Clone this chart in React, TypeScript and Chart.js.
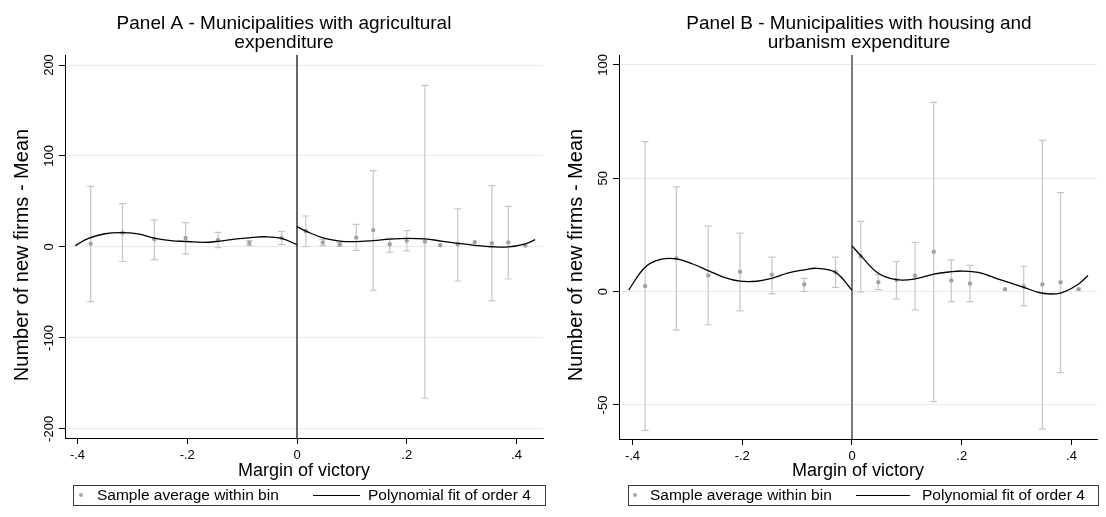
import { useEffect, useRef } from 'react';
import { Chart, registerables } from 'chart.js';

Chart.register(...registerables);

const FONT = "'Liberation Sans', Arial, Helvetica, sans-serif";

// ---------- Panel A: municipalities with agricultural expenditure ----------
const titleA = ['Panel A - Municipalities with agricultural', 'expenditure'];
const binXA = [-0.376, -0.318, -0.26, -0.203, -0.144, -0.087, -0.028, 0.016, 0.047, 0.078, 0.108, 0.139, 0.169, 0.2, 0.233, 0.261, 0.293, 0.324, 0.355, 0.385, 0.416];
const binMeanA = [3.5, 15.7, 8.5, 9.8, 7.8, 4.3, 10, 17.5, 5, 2.8, 10.3, 18.5, 2.9, 7, 6, 1.8, 2.9, 5.1, 4, 5, 1.5];
const ciLowA = [-60, -16, -13.9, -7.7, -0.7, 1.5, 2.6, 0.3, 1.5, 0.7, -3.7, -47.6, -5.9, -4.4, -166.3, null, -37.4, null, -59.3, -35.2, null];
const ciHighA = [66.7, 47.6, 29.7, 26.7, 16, 7, 17.2, 34, 8, 5.1, 24.9, 83.9, 9.5, 17.9, 177.6, null, 42, null, 67.4, 44.7, null];
const fitLeftXA = [-0.404, -0.38, -0.35, -0.32, -0.29, -0.26, -0.23, -0.2, -0.17, -0.14, -0.11, -0.08, -0.06, -0.03, 0];
const fitLeftYA = [1.5, 9.5, 14.5, 15.7, 14.3, 9.8, 7, 6, 5, 6.5, 8.8, 10.6, 11.2, 9.6, 2.6];
const fitRightXA = [0, 0.016, 0.047, 0.078, 0.108, 0.139, 0.169, 0.2, 0.233, 0.263, 0.293, 0.324, 0.355, 0.385, 0.416, 0.434];
const fitRightYA = [22.3, 17.5, 10, 6.5, 5.9, 7, 8.5, 9.5, 8.8, 6.5, 4, 1.8, 0.2, 0, 3.5, 8];
const yTicksA = { min: -210, max: 211, step: 100 };

// ---------- Panel B: municipalities with housing and urbanism expenditure ----------
const titleB = ['Panel B - Municipalities with housing and', 'urbanism expenditure'];
const binXB = [-0.377, -0.32, -0.262, -0.204, -0.146, -0.087, -0.03, 0.016, 0.048, 0.081, 0.115, 0.149, 0.181, 0.215, 0.279, 0.313, 0.347, 0.38, 0.413];
const binMeanB = [2.5, 14.7, 7.2, 8.8, 7.5, 3.2, 8.7, 15.6, 4.2, 5.2, 7, 17.6, 4.9, 3.6, 1.1, 2.3, 3.2, 4.1, 1.1];
const ciLowB = [-61.2, -17, -14.6, -8.5, -1, 0.1, 1.9, -0.1, 0.9, -3.2, -8.1, -48.5, -4.4, -4.4, null, -6.2, -60.6, -35.7, null];
const ciHighB = [66.2, 46.2, 28.9, 25.8, 15.2, 5.9, 15.2, 31, 7.5, 13.3, 21.7, 83.5, 14, 11.6, null, 11.2, 66.7, 43.7, null];
const fitLeftXB = [-0.407, -0.377, -0.349, -0.32, -0.29, -0.262, -0.233, -0.204, -0.173, -0.146, -0.116, -0.087, -0.064, -0.03, 0];
const fitLeftYB = [0.7, 10.8, 14.2, 14.5, 12.2, 9.3, 6.3, 4.6, 4.6, 5.9, 8.3, 9.6, 10.3, 8.5, 0.7];
const fitRightXB = [0, 0.016, 0.048, 0.081, 0.115, 0.149, 0.181, 0.2, 0.23, 0.261, 0.313, 0.347, 0.38, 0.413, 0.43];
const fitRightYB = [20.2, 15.9, 8.1, 5.3, 5.6, 7.7, 8.8, 9.1, 8.5, 6, 1.9, -0.7, -0.6, 3.4, 7.1];
const yTicksB = { min: -65, max: 104.4, step: 50 };

const xTickStep = 0.2;
const xTitle = 'Margin of victory';
const yTitle = 'Number of new firms - Mean';
const legendLabels = ['Sample average within bin', 'Polynomial fit of order 4'];

type Num = number | null;

interface PanelSpec {
  title: string[];
  titleX: number;
  binX: number[];
  mean: number[];
  lo: Num[];
  hi: Num[];
  fitLX: number[];
  fitLY: number[];
  fitRX: number[];
  fitRY: number[];
  yRange: { min: number; max: number; step: number };
  xMin: number;
  xMax: number;
  axisW: number;
  axisH: number;
  padRight: number;
  cutColor: string;
  cutWidth: number;
  legend: { left: number; width: number; dot: number; text1: number; line: [number, number]; text2: number };
}

const panelA: PanelSpec = {
  title: titleA,
  titleX: 284,
  binX: binXA,
  mean: binMeanA,
  lo: ciLowA,
  hi: ciHighA,
  fitLX: fitLeftXA,
  fitLY: fitLeftYA,
  fitRX: fitRightXA,
  fitRY: fitRightYA,
  yRange: yTicksA,
  xMin: -0.4228,
  xMax: 0.4483,
  axisW: 65,
  axisH: 79,
  padRight: 10,
  cutColor: '#000000',
  cutWidth: 1.2,
  legend: { left: 73, width: 472, dot: 81, text1: 97, line: [313, 360], text2: 368 },
};

const panelB: PanelSpec = {
  title: titleB,
  titleX: 306,
  binX: binXB,
  mean: binMeanB,
  lo: ciLowB,
  hi: ciHighB,
  fitLX: fitLeftXB,
  fitLY: fitLeftYB,
  fitRX: fitRightXB,
  fitRY: fitRightYB,
  yRange: yTicksB,
  xMin: -0.4246,
  xMax: 0.4465,
  axisW: 66,
  axisH: 78,
  padRight: 9,
  cutColor: '#7a7a7a',
  cutWidth: 2,
  legend: { left: 75, width: 470, dot: 82, text1: 97, line: [303, 357], text2: 369 },
};

const fmtX = (v: number) => {
  if (Math.abs(v) < 1e-9) return '0';
  const s = Math.abs(v).toFixed(1).replace(/^0/, '');
  return (v < 0 ? '-' : '') + s;
};

const toPoints = (xs: number[], ys: number[]) => xs.map((x, i) => ({ x, y: ys[i] }));

function makeDecor(p: PanelSpec) {
  return {
    id: 'rdDecor',
    beforeDatasetsDraw(chart: any) {
      const { ctx, chartArea } = chart;
      const xs = chart.scales.x;
      const ys = chart.scales.y;
      ctx.save();
      // cutoff at zero margin
      const x0 = xs.getPixelForValue(0);
      ctx.strokeStyle = p.cutColor;
      ctx.lineWidth = p.cutWidth;
      ctx.beginPath();
      ctx.moveTo(x0, chartArea.top);
      ctx.lineTo(x0, chartArea.bottom);
      ctx.stroke();
      // confidence intervals with caps
      ctx.strokeStyle = '#c6c6c6';
      ctx.lineWidth = 1.2;
      p.binX.forEach((bx, i) => {
        const lo = p.lo[i];
        const hi = p.hi[i];
        if (lo == null || hi == null) return;
        const px = xs.getPixelForValue(bx);
        const pl = ys.getPixelForValue(lo);
        const ph = ys.getPixelForValue(hi);
        ctx.beginPath();
        ctx.moveTo(px, pl);
        ctx.lineTo(px, ph);
        ctx.moveTo(px - 3.5, pl);
        ctx.lineTo(px + 3.5, pl);
        ctx.moveTo(px - 3.5, ph);
        ctx.lineTo(px + 3.5, ph);
        ctx.stroke();
      });
      ctx.restore();
    },
    afterDraw(chart: any) {
      const { ctx, chartArea } = chart;
      const ys = chart.scales.y;
      ctx.save();
      ctx.fillStyle = '#000';
      // panel title
      ctx.font = `19px ${FONT}`;
      ctx.textAlign = 'center';
      ctx.textBaseline = 'alphabetic';
      p.title.forEach((line, i) => ctx.fillText(line, p.titleX, 28.5 + i * 19.5));
      // vertical y tick labels
      ctx.font = `13px ${FONT}`;
      ctx.textBaseline = 'middle';
      ys.ticks.forEach((t: any) => {
        const py = ys.getPixelForValue(t.value);
        ctx.save();
        ctx.translate(chartArea.left - 16, py);
        ctx.rotate(-Math.PI / 2);
        ctx.fillText(String(t.value), 0, 0);
        ctx.restore();
      });
      // y axis title
      ctx.font = `20px ${FONT}`;
      ctx.save();
      ctx.translate(chartArea.left - 43, 255);
      ctx.rotate(-Math.PI / 2);
      ctx.fillText(yTitle, 0, 0);
      ctx.restore();
      // legend box
      const lg = p.legend;
      const top = 485;
      const h = 20;
      const cy = top + h / 2;
      ctx.strokeStyle = '#3a3a3a';
      ctx.lineWidth = 1;
      ctx.strokeRect(lg.left + 0.5, top + 0.5, lg.width, h);
      ctx.fillStyle = '#a6a6a6';
      ctx.beginPath();
      ctx.arc(lg.dot, cy, 2, 0, Math.PI * 2);
      ctx.fill();
      ctx.strokeStyle = '#000';
      ctx.lineWidth = 1;
      ctx.beginPath();
      ctx.moveTo(lg.line[0], cy + 0.5);
      ctx.lineTo(lg.line[1], cy + 0.5);
      ctx.stroke();
      ctx.fillStyle = '#000';
      ctx.font = `15.5px ${FONT}`;
      ctx.textAlign = 'left';
      ctx.textBaseline = 'middle';
      ctx.fillText(legendLabels[0], lg.text1, cy + 0.5);
      ctx.fillText(legendLabels[1], lg.text2, cy + 0.5);
      ctx.restore();
    },
  };
}

function fitDataset(xs: number[], ys: number[]) {
  return {
    label: legendLabels[1],
    data: toPoints(xs, ys),
    showLine: true,
    borderColor: '#000',
    borderWidth: 1.3,
    pointRadius: 0,
    tension: 0.4,
  };
}

function buildConfig(p: PanelSpec): any {
  return {
    type: 'scatter',
    data: {
      datasets: [
        fitDataset(p.fitLX, p.fitLY),
        fitDataset(p.fitRX, p.fitRY),
        {
          label: legendLabels[0],
          data: toPoints(p.binX, p.mean),
          backgroundColor: '#a2a2a2',
          borderWidth: 0,
          pointRadius: 2.2,
        },
      ],
    },
    options: {
      animation: false,
      responsive: false,
      devicePixelRatio: 1,
      layout: { padding: { top: 55, right: p.padRight, left: 0, bottom: 0 } },
      plugins: {
        legend: { display: false },
        tooltip: { enabled: false },
        title: { display: false },
      },
      scales: {
        x: {
          type: 'linear',
          min: p.xMin,
          max: p.xMax,
          afterFit: (s: any) => {
            s.height = p.axisH;
          },
          border: { display: true, color: '#000', width: 1 },
          grid: { drawOnChartArea: false, drawTicks: true, tickLength: 6, tickColor: '#000' },
          ticks: {
            stepSize: xTickStep,
            includeBounds: false,
            padding: 4,
            color: '#000',
            font: { family: FONT, size: 13 },
            maxRotation: 0,
            autoSkip: false,
            callback: (v: number) => fmtX(v),
          },
          title: {
            display: true,
            text: xTitle,
            color: '#000',
            font: { family: FONT, size: 18 },
            padding: { top: 0, bottom: 35 },
          },
        },
        y: {
          type: 'linear',
          min: p.yRange.min,
          max: p.yRange.max,
          afterFit: (s: any) => {
            s.width = p.axisW;
          },
          border: { display: true, color: '#000', width: 1 },
          grid: { color: '#e4ecec', lineWidth: 1, drawTicks: true, tickLength: 6, tickColor: '#000' },
          ticks: {
            stepSize: p.yRange.step,
            includeBounds: false,
            display: false,
          },
        },
      },
    },
    plugins: [makeDecor(p)],
  };
}

function Panel({ spec, left }: { spec: PanelSpec; left: number }) {
  const ref = useRef<HTMLCanvasElement | null>(null);
  useEffect(() => {
    if (!ref.current) return;
    const chart = new Chart(ref.current, buildConfig(spec));
    return () => chart.destroy();
  }, [spec]);
  return (
    <canvas
      ref={ref}
      width={553}
      height={517}
      style={{ position: 'absolute', left, top: 0, width: 553, height: 517 }}
    />
  );
}

export default function App() {
  return (
    <div style={{ position: 'fixed', left: 0, top: 0, width: 1106, height: 517, background: '#ffffff', overflow: 'hidden' }}>
      <Panel spec={panelA} left={0} />
      <Panel spec={panelB} left={553} />
    </div>
  );
}
